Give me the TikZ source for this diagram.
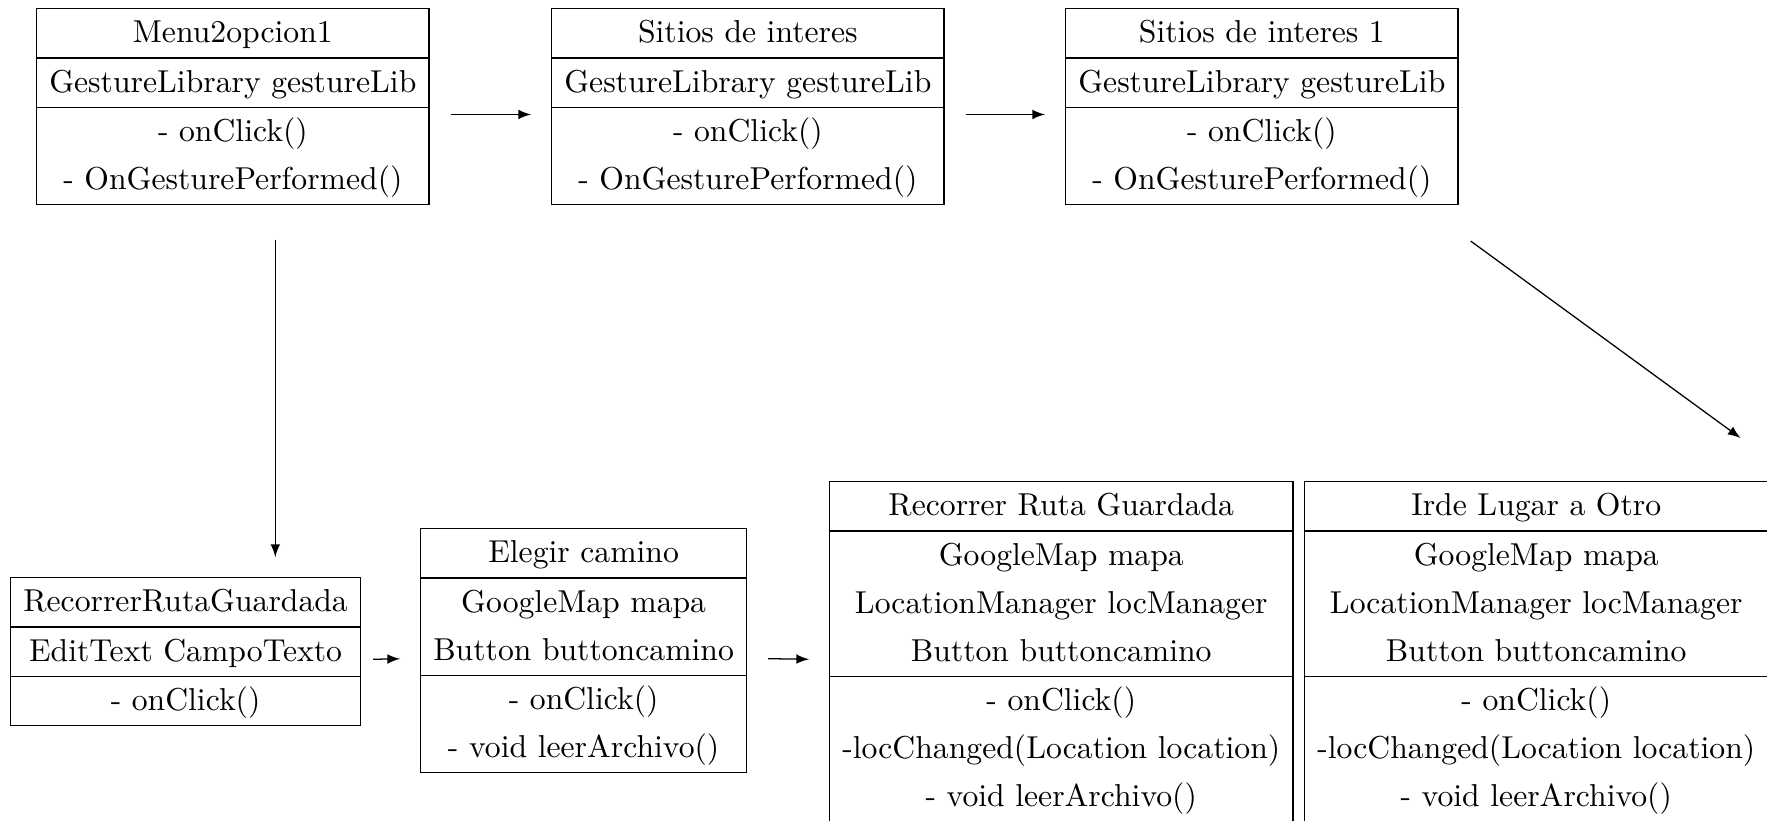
\documentclass[tikz,border=0pt]{standalone}
\usetikzlibrary{shapes.multipart}
\begin{document}
\begin{tikzpicture}[x=0.0111cm, y=-0.0111cm, >=latex, thin,
		clase/.style={draw, rectangle split, rectangle split parts=3, align=center, anchor=north west,
			inner xsep=4pt, inner ysep=0pt, font=\fontsize{10}{15.15}\selectfont},
		flecha/.style={->, shorten <=6.6pt, shorten >=6.3pt}]
	\useasboundingbox (0,0) rectangle (1767,820);
	
	% clases de arriba
	\node[clase] (menu) at (36,8) {\strut Menu2opcion1
		\nodepart{two}\strut GestureLibrary gestureLib
		\nodepart{three}\strut - onClick()\\\strut - OnGesturePerformed()};
	\node[clase] (sitios) at (551,8) {\strut Sitios de interes
		\nodepart{two}\strut GestureLibrary gestureLib
		\nodepart{three}\strut - onClick()\\\strut - OnGesturePerformed()};
	\node[clase] (sitiosuno) at (1065,8) {\strut Sitios de interes 1
		\nodepart{two}\strut GestureLibrary gestureLib
		\nodepart{three}\strut - onClick()\\\strut - OnGesturePerformed()};
	
	% clases de abajo
	\node[clase] (rutaguardada) at (10,577) {\strut RecorrerRutaGuardada
		\nodepart{two}\strut EditText CampoTexto
		\nodepart{three}\strut - onClick()};
	\node[clase] (camino) at (420,528) {\strut Elegir camino
		\nodepart{two}\strut GoogleMap mapa\\\strut Button buttoncamino
		\nodepart{three}\strut - onClick()\\\strut - void leerArchivo()};
	\node[clase] (recorrer) at (829,481) {\strut Recorrer Ruta Guardada
		\nodepart{two}\strut GoogleMap mapa\\\strut LocationManager locManager\\\strut Button buttoncamino
		\nodepart{three}\strut - onClick()\\\strut -locChanged(Location location)\\\strut - void leerArchivo()};
	\node[clase] (lugar) at (1304,481) {\strut Irde Lugar a Otro
		\nodepart{two}\strut GoogleMap mapa\\\strut LocationManager locManager\\\strut Button buttoncamino
		\nodepart{three}\strut - onClick()\\\strut -locChanged(Location location)\\\strut - void leerArchivo()};
	
	% flechas
	\draw[flecha] ([yshift=-2.5pt]menu.east) -- ([yshift=-2.5pt]sitios.west);
	\draw[flecha] ([yshift=-2.5pt]sitios.east) -- ([yshift=-2.5pt]sitiosuno.west);
	\draw[flecha, shorten <=11pt] ([xshift=13.4pt]menu.south) -- ([xshift=13.4pt]menu.south |- rutaguardada.north);
	\draw[flecha, shorten <=3.8pt] ([yshift=-2.5pt]rutaguardada.east) -- ([yshift=-2.5pt]camino.west);
	\draw[flecha] ([yshift=-2.5pt]camino.east) -- ([yshift=-2.5pt]recorrer.west);
	\draw[->] ([shift={(12,36)}]sitiosuno.south east) -- ([shift={(-28,-43)}]lugar.north east);
\end{tikzpicture}
\end{document}
